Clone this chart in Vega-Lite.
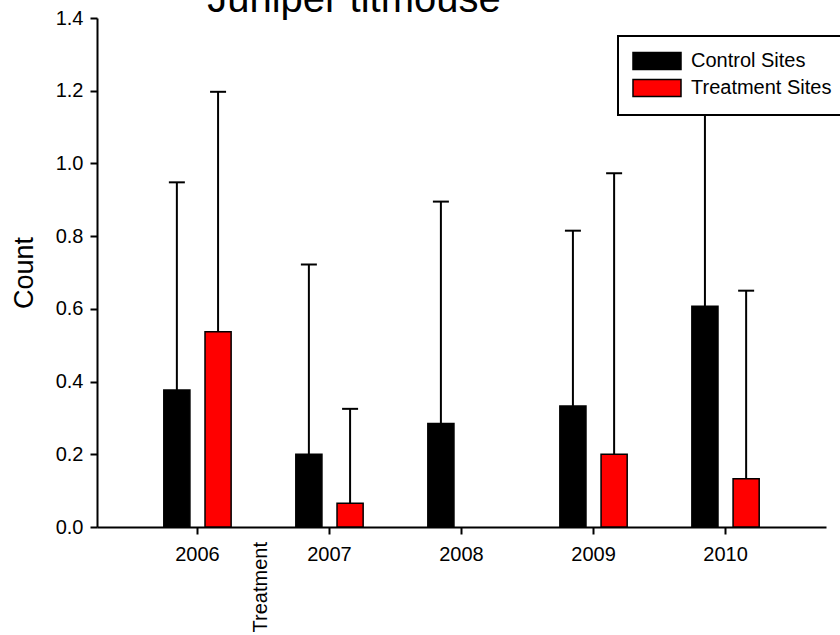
{
  "$schema": "https://vega.github.io/schema/vega-lite/v6.json",
  "width": 729,
  "height": 509,
  "autosize": {"type": "none"},
  "padding": {"left": 97, "top": 18, "right": 14, "bottom": 108},
  "background": "white",
  "config": {
    "view": {"stroke": null},
    "font": "Liberation Sans",
    "axis": {
      "domainColor": "black",
      "domainWidth": 2,
      "tickColor": "black",
      "tickWidth": 2,
      "tickSize": 7,
      "labelFont": "Liberation Sans",
      "labelFontSize": 20,
      "labelColor": "black",
      "titleFont": "Liberation Sans",
      "titleColor": "black",
      "titleFontWeight": "normal",
      "grid": false
    }
  },
  "data": {
    "values": [
      {"year": "2006", "group": "Control Sites", "mean": 0.377, "upper": 0.948},
      {"year": "2006", "group": "Treatment Sites", "mean": 0.537, "upper": 1.197},
      {"year": "2007", "group": "Control Sites", "mean": 0.2, "upper": 0.722},
      {"year": "2007", "group": "Treatment Sites", "mean": 0.065, "upper": 0.325},
      {"year": "2008", "group": "Control Sites", "mean": 0.285, "upper": 0.895},
      {"year": "2008", "group": "Treatment Sites", "mean": 0, "upper": null},
      {"year": "2009", "group": "Control Sites", "mean": 0.333, "upper": 0.815},
      {"year": "2009", "group": "Treatment Sites", "mean": 0.2, "upper": 0.973},
      {"year": "2010", "group": "Control Sites", "mean": 0.607, "upper": 1.28},
      {"year": "2010", "group": "Treatment Sites", "mean": 0.133, "upper": 0.65}
    ]
  },
  "layer": [
    {
      "transform": [{"filter": "datum.mean > 0"}],
      "mark": {"type": "bar", "stroke": "black", "strokeWidth": 1.5},
      "encoding": {
        "x": {
          "field": "year",
          "type": "nominal",
          "scale": {"domain": ["2006", "2007", "2008", "2009", "2010"], "paddingInner": 0.49, "paddingOuter": 0.506},
          "axis": {"title": null, "labelAngle": 0, "labelPadding": 10}
        },
        "xOffset": {
          "field": "group",
          "type": "nominal",
          "scale": {"domain": ["Control Sites", "Treatment Sites"], "paddingInner": 0.366, "paddingOuter": 0}
        },
        "y": {
          "field": "mean",
          "type": "quantitative",
          "scale": {"domain": [0, 1.4], "nice": false},
          "axis": {
            "title": "Count",
            "titleFontSize": 27,
            "titlePadding": 17,
            "values": [0, 0.2, 0.4, 0.6, 0.8, 1.0, 1.2, 1.4],
            "format": ".1f",
            "labelPadding": 7
          }
        },
        "color": {
          "field": "group",
          "type": "nominal",
          "scale": {"domain": ["Control Sites", "Treatment Sites"], "range": ["#000000", "#ff0000"]},
          "legend": {
            "title": null,
            "orient": "none",
            "legendX": 521,
            "legendY": 18,
            "fillColor": "white",
            "strokeColor": "black",
            "padding": 15,
            "zindex": 2,
            "labelFont": "Liberation Sans",
            "labelFontSize": 20,
            "labelColor": "black",
            "labelOffset": 24,
            "rowPadding": 3,
            "symbolOffset": 14,
            "symbolType": "M-2.824,-1H2.824V1H-2.824Z",
            "symbolSize": 289,
            "symbolStrokeColor": "black",
            "symbolStrokeWidth": 1.5,
            "symbolOpacity": 1,
            "encode": {"legend": {"update": {"strokeWidth": {"value": 2}}}}
          }
        }
      }
    },
    {
      "transform": [{"filter": "isValid(datum.upper)"}],
      "mark": {"type": "rule", "strokeWidth": 2, "color": "black"},
      "encoding": {
        "x": {"field": "year", "type": "nominal"},
        "xOffset": {"field": "group", "type": "nominal"},
        "y": {"field": "mean", "type": "quantitative"},
        "y2": {"field": "upper"}
      }
    },
    {
      "transform": [{"filter": "isValid(datum.upper)"}],
      "mark": {"type": "tick", "size": 16, "thickness": 2, "color": "black", "opacity": 1},
      "encoding": {
        "x": {"field": "year", "type": "nominal"},
        "xOffset": {"field": "group", "type": "nominal"},
        "y": {"field": "upper", "type": "quantitative"}
      }
    },
    {
      "data": {"values": [{"label": "Treatment", "year": "2006"}]},
      "mark": {"type": "text", "angle": 270, "align": "left", "baseline": "middle", "fontSize": 20, "font": "Liberation Sans", "color": "black"},
      "encoding": {
        "x": {"field": "year", "type": "nominal", "bandPosition": 1.44},
        "y": {"datum": -0.29, "type": "quantitative"},
        "text": {"field": "label"}
      }
    },
    {
      "data": {"values": [{"label": "Juniper titmouse", "year": "2006"}]},
      "mark": {"type": "text", "align": "left", "baseline": "alphabetic", "fontSize": 40, "font": "Liberation Sans", "color": "black"},
      "encoding": {
        "x": {"field": "year", "type": "nominal", "bandPosition": 0.645},
        "y": {"datum": 1.4165, "type": "quantitative"},
        "text": {"field": "label"}
      }
    }
  ]
}
